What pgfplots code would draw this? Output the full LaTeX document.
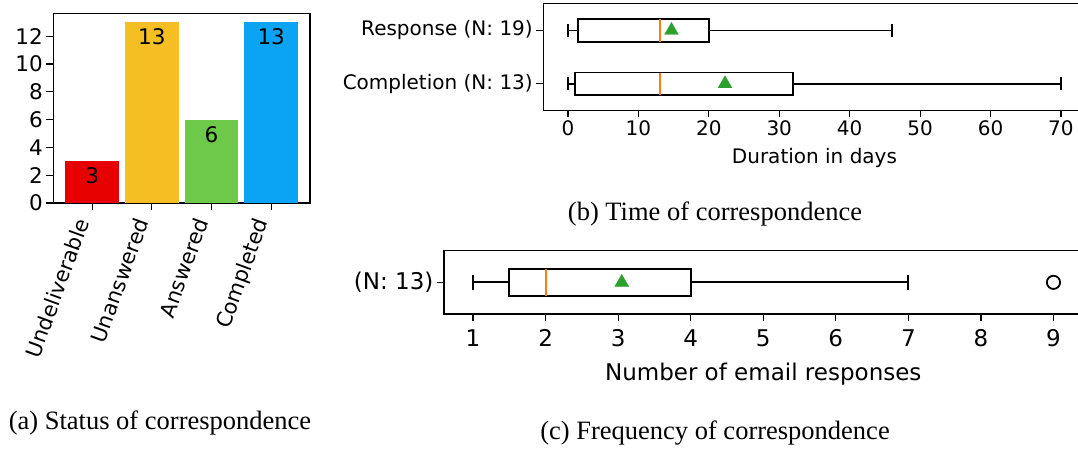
\documentclass[border=0pt]{standalone}
\usepackage{pgfplots}
\pgfplotsset{compat=1.18}
\usepgfplotslibrary{statistics}
\usepackage{fontspec}
\setmainfont{Liberation Serif}
\newfontfamily\dvs{DejaVu Sans}
\definecolor{barred}{RGB}{230,0,0}
\definecolor{baryellow}{RGB}{245,190,35}
\definecolor{bargreen}{RGB}{110,201,74}
\definecolor{barblue}{RGB}{11,163,243}
\definecolor{mplgreen}{HTML}{2CA02C}
\definecolor{mplorange}{HTML}{FF7F0E}
\pgfplotsset{
  common/.style={
    scale only axis,
    anchor=south west,
    tick align=outside,
    tick pos=left,
    major tick length=7pt,
    axis line style={line width=1.2pt},
    every tick/.style={line width=1.2pt, black},
    /pgf/number format/assume math mode=true,
    clip=false,
  },
  bx/.style={
    draw=black, line width=1.8pt,
    boxplot/draw direction=x,
    boxplot/every box/.style={draw=black, line width=1.8pt},
    boxplot/every whisker/.style={draw=black, line width=1.8pt},
    boxplot/every median/.style={draw=mplorange, line width=2pt},
  },
  mean/.style={only marks, mark=triangle*, mark size=8pt, color=mplgreen, mark options={fill=mplgreen, draw=mplgreen, line width=0.3pt}},
}
\begin{document}
\begin{tikzpicture}
% (a) status
\begin{axis}[common,
  at={(53.3pt,245pt)}, width=256.7pt, height=189.7pt,
  xmin=-0.65, xmax=3.65, ymin=0, ymax=13.65,
  xtick={0,1,2,3},
  xticklabels={Undeliverable,Unanswered,Answered,Completed},
  ytick={0,2,4,6,8,10,12},
  ticklabel style={font=\dvs\fontsize{21.5}{24}\selectfont},
  xticklabel style={font=\dvs\fontsize{21}{24}\selectfont, xshift=-19pt, yshift=-4pt, rotate=70, anchor=north east, inner sep=2pt},
]
\addplot[ybar, bar width=0.9, bar shift=0pt, fill=barred, draw=none] coordinates {(0,3)};
\addplot[ybar, bar width=0.9, bar shift=0pt, fill=baryellow, draw=none] coordinates {(1,13)};
\addplot[ybar, bar width=0.9, bar shift=0pt, fill=bargreen, draw=none] coordinates {(2,6)};
\addplot[ybar, bar width=0.9, bar shift=0pt, fill=barblue, draw=none] coordinates {(3,13)};
\addplot[draw=none, mark=none, nodes near coords,
  every node near coord/.append style={font=\dvs\fontsize{21.5}{24}\selectfont, inner sep=0pt, yshift=-23pt, text=black}]
  coordinates {(0,3) (1,13) (2,6) (3,13)};
\end{axis}
% (b) time
\begin{axis}[common,
  at={(543.3pt,337.6pt)}, width=542.3pt, height=106.6pt,
  xmin=-3.5, xmax=73.5, ymin=0.5, ymax=2.5,
  xtick={0,10,20,30,40,50,60,70},
  ytick={1,2},
  yticklabels={Completion (N: 13),Response (N: 19)},
  ticklabel style={font=\dvs\fontsize{20}{22}\selectfont},
  xlabel={Duration in days},
  xlabel style={font=\dvs\fontsize{20}{22}\selectfont, yshift=-5pt},
]
\addplot[bx, boxplot prepared={lower whisker=0, lower quartile=0.95, median=13, upper quartile=32, upper whisker=70, draw position=1, box extend=0.42, whisker extend=0.24}] coordinates {};
\addplot[bx, boxplot prepared={lower whisker=0, lower quartile=1.46, median=13, upper quartile=20, upper whisker=46, draw position=2, box extend=0.42, whisker extend=0.24}] coordinates {};
\addplot[mean] coordinates {(22.3,1) (14.7,2)};
\end{axis}
% (c) frequency
\begin{axis}[common,
  at={(444pt,134pt)}, width=638.5pt, height=63.3pt,
  xmin=0.6, xmax=9.4, ymin=0.5, ymax=1.5,
  xtick={1,2,...,9},
  ytick={1},
  yticklabels={(N: 13)},
  ticklabel style={font=\dvs\fontsize{23}{25}\selectfont},
  xticklabel style={yshift=-5pt},
  xlabel={Number of email responses},
  xlabel style={font=\dvs\fontsize{23}{25}\selectfont, yshift=-9pt},
]
\addplot[bx, mark=o, mark size=6.6pt, mark options={draw=black, line width=1.8pt},
  boxplot prepared={lower whisker=1, lower quartile=1.5, median=2, upper quartile=4, upper whisker=7, draw position=1, box extend=0.42, whisker extend=0.24}]
  table[row sep=\\, y index=0] {9\\};
\addplot[mean] coordinates {(3.05,1)};
\end{axis}
\node[anchor=base, font=\fontsize{26.5}{30}\selectfont] at (160pt,19pt) {(a) Status of correspondence};
\node[anchor=base, font=\fontsize{26.5}{30}\selectfont] at (715pt,227.3pt) {(b) Time of correspondence};
\node[anchor=base, font=\fontsize{26.5}{30}\selectfont] at (715pt,8.7pt) {(c) Frequency of correspondence};
\pgfresetboundingbox
\path[use as bounding box] (0pt,0pt) rectangle (1078pt,448pt);
\end{tikzpicture}
\end{document}
